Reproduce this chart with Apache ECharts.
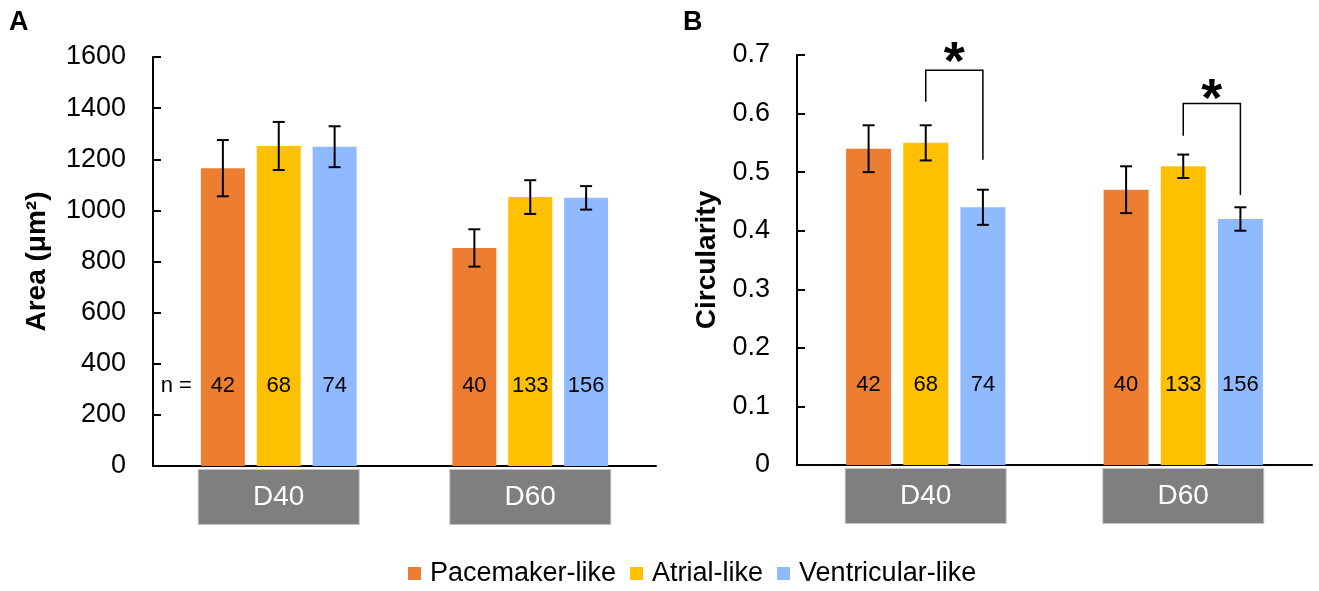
<!DOCTYPE html>
<html><head><meta charset="utf-8">
<script src="https://cdn.jsdelivr.net/npm/echarts@6/dist/echarts.min.js"></script>
<style>html,body{margin:0;padding:0;background:#fff}#c{width:1319px;height:591px}</style>
</head><body><div id="c"></div>
<script>
// ---------- data ----------
const categories = ['D40', 'D60'];
const seriesNames = ['Pacemaker-like', 'Atrial-like', 'Ventricular-like'];
// Panel A: Area (µm²), per series [D40, D60]
const areaPacemaker = [1165, 853];
const areaAtrial = [1252, 1052];
const areaVentricular = [1249, 1049];
const areaErrPacemaker = [110, 73];
const areaErrAtrial = [94, 66];
const areaErrVentricular = [80, 46];
// Panel B: Circularity
const circPacemaker = [0.54, 0.47];
const circAtrial = [0.55, 0.51];
const circVentricular = [0.44, 0.42];
const circErrPacemaker = [0.04, 0.04];
const circErrAtrial = [0.03, 0.02];
const circErrVentricular = [0.03, 0.02];
// cell counts
const nPacemaker = [42, 40];
const nAtrial = [68, 133];
const nVentricular = [74, 156];
// tick labels
const areaTickLabels = ['0', '200', '400', '600', '800', '1000', '1200', '1400', '1600'];
const circTickLabels = ['0', '0.1', '0.2', '0.3', '0.4', '0.5', '0.6', '0.7'];
// significance brackets (panel B): Atrial vs Ventricular
const sigCategory = [0, 1];
const sigTop = [0.674, 0.617];
const sigLeftEnd = [0.620, 0.562];
const sigRightEnd = [0.521, 0.461];
const sigStarLevel = [0.684, 0.621];

// ---------- styling ----------
const colors = ['#ED7D31', '#FFC000', '#8FBAFF'];
const FONT = "'Liberation Sans', Arial, Helvetica, sans-serif";
const GAP = 0.27;
const BW_A = 44, BW_B = 45;

const areaMeans = [areaPacemaker, areaAtrial, areaVentricular];
const areaErrs = [areaErrPacemaker, areaErrAtrial, areaErrVentricular];
const circMeans = [circPacemaker, circAtrial, circVentricular];
const circErrs = [circErrPacemaker, circErrAtrial, circErrVentricular];
const nCounts = [nPacemaker, nAtrial, nVentricular];

function errData(means, errs) {
  const d = [];
  means.forEach((m, k) => m.forEach((v, c) => d.push([c, v - errs[k][c], v + errs[k][c], k])));
  return d;
}
function errRender(barW) {
  return function (params, api) {
    const c = api.value(0), k = api.value(3);
    const pLo = api.coord([c, api.value(1)]);
    const pHi = api.coord([c, api.value(2)]);
    const x = pLo[0] + (k - 1) * barW * (1 + GAP);
    const cap = 6;
    const st = { stroke: '#000', lineWidth: 2 };
    return {
      type: 'group', children: [
        { type: 'line', shape: { x1: x, y1: pLo[1], x2: x, y2: pHi[1] }, style: st },
        { type: 'line', shape: { x1: x - cap, y1: pLo[1], x2: x + cap, y2: pLo[1] }, style: st },
        { type: 'line', shape: { x1: x - cap, y1: pHi[1], x2: x + cap, y2: pHi[1] }, style: st }
      ]
    };
  };
}

function barSeries(means, xi, bw) {
  return means.map((m, k) => ({
    name: seriesNames[k], type: 'bar', xAxisIndex: xi, yAxisIndex: xi,
    data: m, barWidth: bw, barGap: (GAP * 100) + '%',
    itemStyle: { color: colors[k] },
    label: {
      show: true, position: 'insideBottom', distance: 69,
      formatter: p => String(nCounts[k][p.dataIndex]),
      color: '#000', fontSize: 22, fontFamily: FONT
    },
    emphasis: { disabled: true }
  }));
}

const xAxisCommon = {
  type: 'category', data: categories,
  axisLine: { show: true, lineStyle: { color: '#000', width: 2 } },
  axisTick: { show: false },
  axisLabel: {
    margin: 4, color: '#fff', fontSize: 28, fontFamily: FONT,
    backgroundColor: '#7F7F7F', borderColor: '#C4C4C4', borderWidth: 1,
    width: 160, height: 54, lineHeight: 54, align: 'center', padding: 0
  }
};
const yAxisCommon = {
  type: 'value', min: 0,
  axisLine: { show: true, lineStyle: { color: '#000', width: 2 } },
  axisTick: { show: true, inside: true, length: 8, lineStyle: { color: '#000', width: 2 } },
  splitLine: { show: false },
  nameLocation: 'middle', nameRotate: 90,
  nameTextStyle: { color: '#000', fontSize: 28, fontWeight: 'bold', fontFamily: FONT }
};

const chart = echarts.init(document.getElementById('c'), null, { renderer: 'canvas' });
chart.setOption({
  animation: false,
  backgroundColor: '#fff',
  textStyle: { fontFamily: FONT },
  grid: [
    { left: 153, top: 57, width: 503, height: 409 },
    { left: 797, top: 55, width: 515, height: 410 }
  ],
  xAxis: [
    Object.assign({ gridIndex: 0 }, xAxisCommon),
    Object.assign({ gridIndex: 1 }, xAxisCommon)
  ],
  yAxis: [
    Object.assign({}, yAxisCommon, {
      gridIndex: 0, max: 1600, interval: 200, name: 'Area (μm²)', nameGap: 102,
      axisLabel: { margin: 27, color: '#000', fontSize: 27, fontFamily: FONT,
        formatter: v => areaTickLabels[Math.round(v / 200)] }
    }),
    Object.assign({}, yAxisCommon, {
      gridIndex: 1, max: 0.7, interval: 0.1, name: 'Circularity', nameGap: 76,
      axisLabel: { margin: 27, color: '#000', fontSize: 27, fontFamily: FONT,
        formatter: v => circTickLabels[Math.round(v / 0.1)] }
    })
  ],
  legend: {
    data: seriesNames, left: 408, top: 560, padding: 0,
    itemWidth: 13, itemHeight: 13, itemGap: 14, icon: 'rect', selectedMode: false,
    textStyle: { fontSize: 27, color: '#000', fontFamily: FONT, padding: [0, 0, 0, 4] }
  },
  graphic: [
    { type: 'text', left: 9, top: 9, style: { text: 'A', font: 'bold 27px ' + FONT, fill: '#000' } },
    { type: 'text', left: 683, top: 9, style: { text: 'B', font: 'bold 27px ' + FONT, fill: '#000' } }
  ],
  series: [
    ...barSeries(areaMeans, 0, BW_A),
    ...barSeries(circMeans, 1, BW_B),
    {
      type: 'custom', name: 'errA', xAxisIndex: 0, yAxisIndex: 0,
      data: errData(areaMeans, areaErrs), renderItem: errRender(BW_A),
      encode: { x: 0, y: [1, 2] }, z: 5, silent: true
    },
    {
      type: 'custom', name: 'errB', xAxisIndex: 1, yAxisIndex: 1,
      data: errData(circMeans, circErrs), renderItem: errRender(BW_B),
      encode: { x: 0, y: [1, 2] }, z: 5, silent: true
    },
    {
      type: 'custom', name: 'nPrefix', xAxisIndex: 0, yAxisIndex: 0,
      data: [[0, 0]], z: 5, silent: true,
      renderItem: function (params, api) {
        const p = api.coord([api.value(0), 0]);
        const x = p[0] - BW_A * (1 + GAP) - BW_A / 2 - 9;
        return { type: 'text', x: x, y: p[1] - 69 - 11,
          style: { text: 'n =', font: '22px ' + FONT, fill: '#000', align: 'right', verticalAlign: 'middle' } };
      }
    },
    {
      type: 'custom', name: 'sig', xAxisIndex: 1, yAxisIndex: 1, z: 5, silent: true,
      data: sigCategory.map((c, i) => [c, sigTop[i], sigLeftEnd[i], sigRightEnd[i], sigStarLevel[i]]),
      encode: { x: 0, y: [1, 4] },
      renderItem: function (params, api) {
        const c = api.value(0);
        const step = BW_B * (1 + GAP);
        const base = api.coord([c, api.value(1)]);
        const xL = base[0];           // Atrial bar centre
        const xR = base[0] + step;    // Ventricular bar centre
        const yTop = base[1];
        const yL = api.coord([c, api.value(2)])[1];
        const yR = api.coord([c, api.value(3)])[1];
        const yS = api.coord([c, api.value(4)])[1];
        return {
          type: 'group', children: [
            { type: 'polyline', shape: { points: [[xL, yL], [xL, yTop], [xR, yTop], [xR, yR]] },
              style: { stroke: '#000', lineWidth: 1.5, fill: null } },
            { type: 'text', x: (xL + xR) / 2, y: yS,
              style: { text: '*', font: 'bold 54px ' + FONT, fill: '#000', align: 'center', verticalAlign: 'middle' } }
          ]
        };
      }
    }
  ]
});
</script>
</body></html>
